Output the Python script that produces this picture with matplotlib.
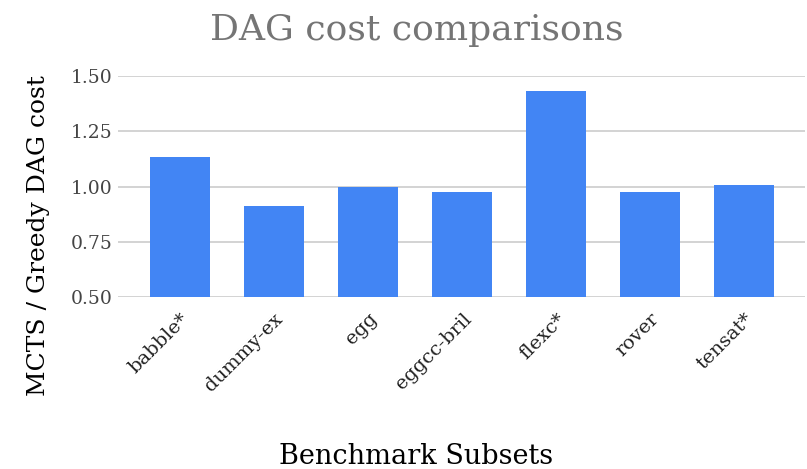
import matplotlib
matplotlib.use("Agg")
import matplotlib.pyplot as plt

# data
subsets = ["babble*", "dummy-ex", "egg", "eggcc-bril", "flexc*", "rover", "tensat*"]
cost_ratio = [1.133, 0.911, 0.998, 0.975, 1.430, 0.975, 1.005]
y_ticks = [0.50, 0.75, 1.00, 1.25, 1.50]

plt.rcParams['font.family'] = ['DejaVu Serif']

fig = plt.figure(figsize=(8.07, 4.69), dpi=100)
ax = fig.add_axes([0.146, 0.366, 0.852, 0.4725])

x = range(len(subsets))
ax.bar(x, cost_ratio, width=0.64, color='#4285f4', zorder=3)

ax.set_ylim(0.5, 1.5)
ax.set_xlim(-0.66, 6.65)
ax.set_yticks(y_ticks)
ax.set_yticklabels([f"{v:.2f}" for v in y_ticks], fontsize=13.5, color='#444444')
ax.set_xticks(list(x))
ax.set_xticklabels(subsets, rotation=45, ha='right', rotation_mode='anchor',
                   fontsize=14, color='#222222')
ax.tick_params(axis='y', length=0, pad=4)
ax.tick_params(axis='x', length=0, pad=9)

ax.grid(axis='y', color='#cccccc', linewidth=1.2, zorder=0)
for s in ax.spines.values():
    s.set_visible(False)

fig.text(0.517, 0.935, "DAG cost comparisons", ha='center', va='center',
         fontsize=26, color='#757575')
ax.set_ylabel("MCTS / Greedy DAG cost", fontsize=18, color='black')
fig.text(0.515, 0.027, "Benchmark Subsets", ha='center', va='center',
         fontsize=19.5, color='black')
ax.yaxis.set_label_coords(-0.098, 0.28)

fig.savefig("out.png", dpi=100)
